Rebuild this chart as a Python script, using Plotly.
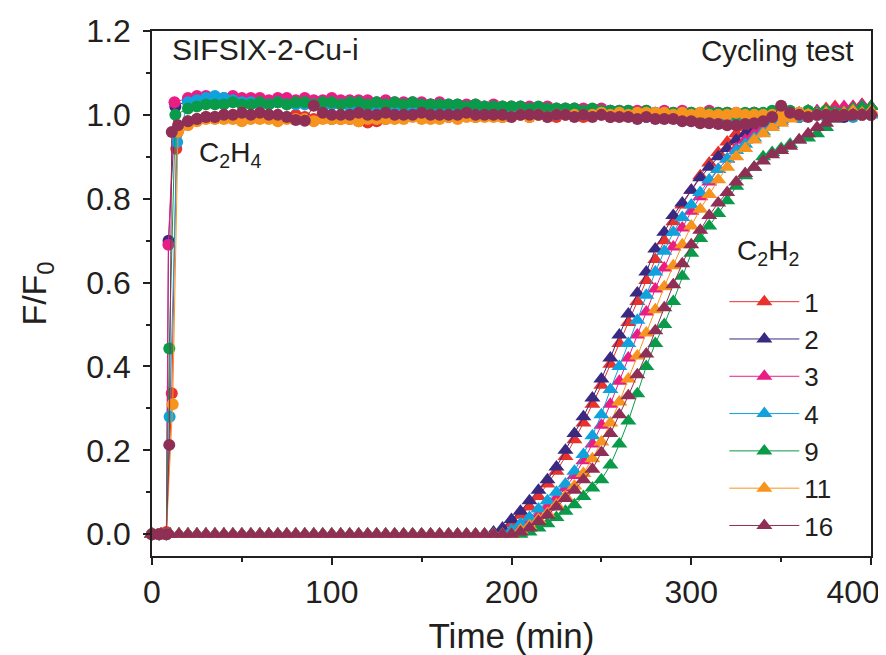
"""C2H4/C2H2 cycling breakthrough curves for SIFSIX-2-Cu-i."""
import plotly.graph_objects as go

CYCLES = ["1", "2", "3", "4", "9", "11", "16"]
COLORS = ["#E8322B", "#3A2980", "#E91E84", "#10A2DD", "#0A9B4A", "#F7941E", "#8F2F56"]

# ---- C2H4 (circles): first points differ per cycle, tail on a shared 5 min grid
C2H4_HEAD_T = [
    [0, 4, 8, 11, 13.5],
    [0, 4, 8, 9.2, 13],
    [0, 4, 8, 9.1, 12.5],
    [0, 4, 8, 9.8, 14],
    [0, 4, 8, 9.6, 13],
    [0, 4, 8, 11.5, 14.5],
    [0, 4, 8, 9.6, 11, 14.5],
]
C2H4_HEAD_F = [
    [0, 0, 0.005, 0.336, 0.919],
    [0, 0, 0, 0.70, 1.02],
    [0, 0, 0, 0.69, 1.03],
    [0, 0, 0, 0.28, 0.935],
    [0, 0, 0, 0.443, 1.0],
    [0, 0, 0, 0.31, 0.96],
    [0, 0, 0, 0.213, 0.959, 0.975],
]
C2H4_TAIL_T = [
    20, 25, 30, 35, 40, 45, 50, 55, 60, 65, 70, 75, 80, 85, 90, 95, 100, 105,
    110, 115, 120, 125, 130, 135, 140, 145, 150, 155, 160, 165, 170, 175, 180, 185, 190, 195,
    200, 205, 210, 215, 220, 225, 230, 235, 240, 245, 250, 255, 260, 265, 270, 275, 280, 285,
    290, 295, 300, 305, 310, 315, 320, 325, 330, 335, 340, 345, 350, 355, 360, 365, 370, 375,
    380, 385, 390, 395, 400, 405,
]
C2H4_TAIL_F = [
    # 1
    [0.985, 0.99, 0.995, 0.995, 1.0, 0.995, 1.0, 0.995, 0.995, 1.0, 0.995, 0.995,
     1.0, 0.995, 0.99, 0.995, 0.99, 0.99, 0.99, 0.985, 0.982, 0.985, 0.99, 0.995,
     0.995, 1.0, 0.995, 1.0, 1.0, 0.995, 1.0, 1.0, 0.995, 1.0, 1.0, 0.995,
     1.0, 1.0, 0.995, 1.0, 1.0, 0.995, 1.0, 1.0, 0.995, 1.0, 1.0, 0.995,
     1.0, 1.0, 0.995, 1.0, 1.0, 1.0, 0.995, 1.0, 1.0, 0.995, 1.0, 1.0,
     0.995, 1.0, 1.0, 1.0, 0.995, 1.0, 1.0, 1.0, 0.995, 1.0, 1.0, 1.0,
     1.0, 1.005, 1.0, 1.0, 1.0, 1.0],
    # 2
    [1.035, 1.04, 1.035, 1.035, 1.035, 1.035, 1.035, 1.03, 1.035, 1.03, 1.03, 1.035,
     1.03, 1.03, 1.03, 1.03, 1.025, 1.03, 1.03, 1.025, 1.03, 1.025, 1.025, 1.025,
     1.025, 1.025, 1.02, 1.025, 1.02, 1.02, 1.02, 1.02, 1.02, 1.015, 1.02, 1.015,
     1.015, 1.015, 1.015, 1.01, 1.015, 1.01, 1.01, 1.01, 1.01, 1.01, 1.005, 1.01,
     1.005, 1.005, 1.005, 1.005, 1.0, 1.005, 1.0, 1.005, 1.0, 1.0, 1.005, 1.0,
     1.0, 1.0, 1.0, 1.005, 1.0, 1.0, 1.0, 1.0, 0.995, 1.0, 1.0, 1.0,
     1.0, 0.995, 1.0, 1.0, 1.0, 1.0],
    # 3
    [1.04, 1.045, 1.045, 1.04, 1.04, 1.045, 1.04, 1.04, 1.04, 1.035, 1.04, 1.04,
     1.035, 1.04, 1.035, 1.035, 1.04, 1.035, 1.035, 1.035, 1.035, 1.03, 1.035, 1.03,
     1.03, 1.03, 1.03, 1.025, 1.03, 1.025, 1.025, 1.025, 1.025, 1.02, 1.025, 1.02,
     1.02, 1.02, 1.02, 1.015, 1.02, 1.015, 1.015, 1.015, 1.015, 1.01, 1.015, 1.01,
     1.01, 1.01, 1.01, 1.01, 1.005, 1.01, 1.005, 1.01, 1.005, 1.005, 1.01, 1.005,
     1.005, 1.005, 1.0, 1.005, 1.0, 1.005, 1.0, 1.005, 1.0, 1.005, 1.0, 1.0,
     1.005, 1.0, 1.005, 1.0, 1.0, 1.0],
    # 4
    [1.03, 1.035, 1.04, 1.045, 1.04, 1.035, 1.03, 1.03, 1.025, 1.025, 1.03, 1.025,
     1.025, 1.025, 1.025, 1.02, 1.025, 1.025, 1.02, 1.025, 1.02, 1.02, 1.02, 1.02,
     1.02, 1.015, 1.02, 1.015, 1.015, 1.02, 1.015, 1.015, 1.015, 1.01, 1.015, 1.01,
     1.01, 1.01, 1.01, 1.005, 1.01, 1.005, 1.005, 1.005, 1.005, 1.0, 1.005, 1.0,
     1.0, 1.0, 1.0, 0.995, 1.0, 1.0, 0.995, 1.0, 0.995, 0.995, 1.0, 0.995,
     0.995, 0.995, 1.0, 0.995, 0.995, 1.0, 0.995, 1.0, 0.995, 1.0, 1.0, 0.995,
     1.0, 1.0, 0.995, 1.0, 1.0, 1.0],
    # 9
    [1.015, 1.02, 1.025, 1.025, 1.025, 1.03, 1.025, 1.025, 1.03, 1.025, 1.03, 1.025,
     1.03, 1.03, 1.025, 1.03, 1.03, 1.025, 1.03, 1.03, 1.025, 1.03, 1.025, 1.03,
     1.025, 1.03, 1.025, 1.025, 1.025, 1.025, 1.025, 1.02, 1.025, 1.02, 1.02, 1.02,
     1.02, 1.02, 1.015, 1.02, 1.015, 1.015, 1.015, 1.015, 1.01, 1.015, 1.01, 1.01,
     1.01, 1.01, 1.005, 1.01, 1.005, 1.005, 1.005, 1.005, 1.005, 1.0, 1.005, 1.005,
     1.005, 1.0, 1.005, 1.005, 1.005, 1.01, 1.005, 1.01, 1.005, 1.01, 1.005, 1.01,
     1.005, 1.005, 1.0, 1.005, 1.0, 1.0],
    # 11
    [0.975, 0.985, 0.99, 0.99, 0.99, 0.99, 0.985, 0.99, 0.99, 0.99, 0.985, 0.99,
     0.99, 0.99, 0.985, 0.99, 0.99, 0.99, 0.99, 0.985, 0.99, 0.99, 0.99, 0.99,
     0.99, 0.995, 0.99, 0.99, 0.99, 0.995, 0.99, 0.995, 0.995, 0.995, 0.995, 0.995,
     0.995, 1.0, 0.995, 1.0, 0.995, 1.0, 1.0, 1.0, 1.0, 1.0, 1.005, 1.0,
     1.005, 1.0, 1.005, 1.005, 1.005, 1.005, 1.0, 1.005, 1.0, 1.005, 1.0, 1.0,
     1.0, 1.005, 1.0, 1.0, 1.0, 1.0, 1.0, 1.0, 1.005, 1.0, 1.0, 1.0,
     1.0, 1.0, 1.0, 1.0, 1.0, 1.0],
    # 16
    [0.985, 0.99, 0.995, 0.995, 1.0, 1.0, 1.005, 1.0, 1.005, 1.0, 1.0, 0.995,
     0.988, 0.986, 1.022, 1.005, 1.0, 1.0, 1.0, 1.005, 1.0, 1.0, 1.005, 1.0,
     1.0, 1.0, 1.005, 1.0, 1.0, 1.0, 1.0, 1.005, 1.0, 1.0, 1.0, 1.0,
     0.995, 1.0, 1.0, 1.0, 0.995, 1.0, 1.0, 0.995, 1.0, 0.995, 1.0, 0.995,
     0.995, 0.995, 0.99, 0.995, 0.99, 0.99, 0.99, 0.985, 0.985, 0.98, 0.98, 0.978,
     0.975, 0.975, 0.978, 0.98, 0.985, 0.995, 1.022, 1.005, 1.0, 0.995, 1.0, 1.0,
     1.0, 1.0, 1.0, 1.0, 1.0, 1.0],
]

# ---- C2H2 (triangles): shared 5 min grid
C2H2_T = [
    0, 5, 10, 15, 20, 25, 30, 35, 40, 45, 50, 55, 60, 65, 70, 75, 80,
    85, 90, 95, 100, 105, 110, 115, 120, 125, 130, 135, 140, 145, 150, 155, 160,
    165, 170, 175, 180, 185, 190, 195, 200, 205, 210, 215, 220, 225, 230, 235, 240,
    245, 250, 255, 260, 265, 270, 275, 280, 285, 290, 295, 300, 305, 310, 315, 320,
    325, 330, 335, 340, 345, 350, 355, 360, 365, 370, 375, 380, 385, 390, 395, 400,
]
C2H2_F = [
    # 1
    [0, 0, 0, 0, 0, 0, 0, 0, 0, 0, 0, 0, 0, 0, 0, 0, 0, 0, 0, 0,
     0, 0, 0, 0, 0, 0, 0, 0, 0, 0, 0, 0, 0, 0, 0, 0, 0, 0, 0,
     0.01, 0.025, 0.045, 0.065, 0.09, 0.12, 0.15, 0.185, 0.225, 0.265, 0.31,
     0.355, 0.405, 0.455, 0.505, 0.555, 0.605, 0.655, 0.7, 0.745, 0.785,
     0.82, 0.855, 0.885, 0.91, 0.935, 0.955, 0.97, 0.98, 0.99, 0.995,
     1.0, 1.0, 1.005, 1.01, 1.01, 1.015, 1.02, 1.015, 1.02, 1.025, 1.02],
    # 2
    [0, 0, 0, 0, 0, 0, 0, 0, 0, 0, 0, 0, 0, 0, 0, 0, 0, 0, 0, 0,
     0, 0, 0, 0, 0, 0, 0, 0, 0, 0, 0, 0, 0, 0, 0, 0, 0, 0,
     0.005, 0.015, 0.035, 0.055, 0.08, 0.105, 0.13, 0.16, 0.2, 0.24, 0.28,
     0.325, 0.37, 0.42, 0.475, 0.525, 0.575, 0.625, 0.68, 0.72, 0.76, 0.79,
     0.82, 0.85, 0.875, 0.9, 0.92, 0.94, 0.955, 0.965, 0.975, 0.98,
     0.99, 0.995, 1.0, 1.0, 1.005, 1.0, 1.005, 1.01, 1.005, 1.01, 1.0],
    # 3
    [0, 0, 0, 0, 0, 0, 0, 0, 0, 0, 0, 0, 0, 0, 0, 0, 0, 0, 0, 0,
     0, 0, 0, 0, 0, 0, 0, 0, 0, 0, 0, 0, 0, 0, 0, 0, 0, 0, 0, 0,
     0.005, 0.015, 0.03, 0.045, 0.065, 0.085, 0.11, 0.14, 0.175, 0.215,
     0.26, 0.31, 0.365, 0.42, 0.475, 0.53, 0.585, 0.635, 0.685, 0.73,
     0.77, 0.805, 0.84, 0.87, 0.895, 0.92, 0.94, 0.955, 0.97, 0.98,
     0.99, 0.995, 1.0, 1.005, 1.01, 1.01, 1.015, 1.02, 1.02, 1.025, 1.02],
    # 4
    [0, 0, 0, 0, 0, 0, 0, 0, 0, 0, 0, 0, 0, 0, 0, 0, 0, 0, 0, 0,
     0, 0, 0, 0, 0, 0, 0, 0, 0, 0, 0, 0, 0, 0, 0, 0, 0, 0, 0, 0,
     0.01, 0.025, 0.04, 0.06, 0.08, 0.1, 0.12, 0.15, 0.19, 0.235,
     0.285, 0.345, 0.4, 0.455, 0.51, 0.57, 0.625, 0.675, 0.72, 0.755,
     0.785, 0.815, 0.845, 0.87, 0.895, 0.915, 0.93, 0.945, 0.96, 0.975,
     0.985, 0.995, 1.0, 1.0, 1.005, 1.0, 1.005, 1.0, 1.005, 1.0, 1.0],
    # 9
    [0, 0, 0, 0, 0, 0, 0, 0, 0, 0, 0, 0, 0, 0, 0, 0, 0, 0, 0, 0,
     0, 0, 0, 0, 0, 0, 0, 0, 0, 0, 0, 0, 0, 0, 0, 0, 0, 0, 0, 0,
     0, 0,
     0.005, 0.015, 0.025, 0.04, 0.055, 0.07, 0.09, 0.11, 0.13, 0.165,
     0.215, 0.27, 0.335, 0.4, 0.455, 0.5, 0.555, 0.615, 0.67, 0.705,
     0.735, 0.765, 0.795, 0.83, 0.855, 0.875, 0.9, 0.91, 0.92, 0.93,
     0.94, 0.945, 0.955, 0.97, 0.99, 1.005, 1.015, 1.02, 1.02],
    # 11
    [0, 0, 0, 0, 0, 0, 0, 0, 0, 0, 0, 0, 0, 0, 0, 0, 0, 0, 0, 0,
     0, 0, 0, 0, 0, 0, 0, 0, 0, 0, 0, 0, 0, 0, 0, 0, 0, 0, 0, 0, 0,
     0.01, 0.02, 0.035, 0.05, 0.07, 0.09, 0.115, 0.145, 0.18, 0.22,
     0.265, 0.315, 0.37, 0.425, 0.48, 0.535, 0.59, 0.64, 0.69, 0.735,
     0.775, 0.81, 0.845, 0.875, 0.9, 0.92, 0.94, 0.955, 0.97, 0.98,
     0.99, 0.995, 1.0, 1.0, 1.005, 1.0, 1.005, 1.01, 1.005, 1.01],
    # 16
    [0, 0, 0, 0, 0, 0, 0, 0, 0, 0, 0, 0, 0, 0, 0, 0, 0, 0, 0, 0,
     0, 0, 0, 0, 0, 0, 0, 0, 0, 0, 0, 0, 0, 0, 0, 0, 0, 0, 0, 0, 0,
     0.005, 0.015, 0.03, 0.045, 0.065, 0.085, 0.105, 0.13, 0.155, 0.195,
     0.24, 0.285, 0.33, 0.38, 0.43, 0.485, 0.54, 0.595, 0.645, 0.69,
     0.725, 0.76, 0.79, 0.815, 0.84, 0.86, 0.875, 0.89, 0.905, 0.915,
     0.925, 0.94, 0.955, 0.97, 0.98, 0.99, 0.995, 1.0, 1.0, 1.005],
]

X_TICKS = [0, 100, 200, 300, 400]
# last label padded with figure spaces so it sits inside the window, as in the original
X_TICK_TEXT = ["0", "100", "200", "300", "400\u2007\u2007"]
Y_TICKS = [0, 0.2, 0.4, 0.6, 0.8, 1.0, 1.2]

FONT = "Liberation Sans, Arial, sans-serif"
INK = "#231F20"

fig = go.Figure()

# each cycle: C2H4 circles, then C2H2 triangles (later cycles drawn on top)
for i, cyc in enumerate(CYCLES):
    fig.add_trace(go.Scatter(
        x=C2H4_HEAD_T[i] + C2H4_TAIL_T,
        y=C2H4_HEAD_F[i] + C2H4_TAIL_F[i],
        mode="lines+markers", name=f"C2H4 {cyc}", showlegend=False,
        line=dict(color=COLORS[i], width=1),
        marker=dict(symbol="circle", size=12, color=COLORS[i], line=dict(width=0)),
        cliponaxis=False,
    ))
    fig.add_trace(go.Scatter(
        x=C2H2_T, y=C2H2_F[i],
        mode="lines+markers", name=cyc, legendgroup=cyc,
        line=dict(color=COLORS[i], width=1),
        marker=dict(symbol="triangle-up", size=14, color=COLORS[i], line=dict(width=0)),
        cliponaxis=False,
    ))

axis_common = dict(
    showline=True, linecolor=INK, linewidth=1.5, mirror=True,
    ticks="outside", ticklen=7, tickwidth=1.5, tickcolor=INK,
    showgrid=False, zeroline=False, automargin=False,
    tickfont=dict(family=FONT, size=32, color=INK),
)

fig.update_xaxes(
    **axis_common, range=[0, 400], tickvals=X_TICKS, ticktext=X_TICK_TEXT,
    ticklabeloverflow="allow",
    minor=dict(dtick=50, ticks="outside", ticklen=4, tickwidth=1.5, tickcolor=INK),
    title=dict(text="Time (min)", font=dict(family=FONT, size=35, color=INK), standoff=22),
)
fig.update_yaxes(
    **axis_common, range=[-0.052, 1.2], tickvals=Y_TICKS,
    tickformat=".1f", ticklabelstandoff=6,
    minor=dict(dtick=0.1, ticks="outside", ticklen=4, tickwidth=1.5, tickcolor=INK),
    title=dict(text="F/F<sub>0</sub>", font=dict(family=FONT, size=34, color=INK), standoff=29),
)

fig.add_annotation(x=0.025, y=0.965, xref="paper", yref="paper", text="SIFSIX-2-Cu-i",
                   showarrow=False, xanchor="left", yanchor="middle",
                   font=dict(family=FONT, size=30, color=INK))
fig.add_annotation(x=0.978, y=0.963, xref="paper", yref="paper", text="Cycling test",
                   showarrow=False, xanchor="right", yanchor="middle",
                   font=dict(family=FONT, size=29.5, color=INK))
fig.add_annotation(x=0.063, y=0.765, xref="paper", yref="paper", text="C<sub>2</sub>H<sub>4</sub>",
                   showarrow=False, xanchor="left", yanchor="middle",
                   font=dict(family=FONT, size=28, color=INK))
fig.add_annotation(x=0.811, y=0.578, xref="paper", yref="paper", text="C<sub>2</sub>H<sub>2</sub>",
                   showarrow=False, xanchor="left", yanchor="middle",
                   font=dict(family=FONT, size=28, color=INK))

# the page body adds an 8 px offset, so the figure is 8 px smaller than the window
fig.update_layout(
    width=878, height=647,
    margin=dict(l=144, r=15, t=23, b=99),
    paper_bgcolor="white", plot_bgcolor="white",
    font=dict(family=FONT, color=INK),
    legend=dict(
        x=0.796, y=0.529, xanchor="left", yanchor="top",
        bgcolor="rgba(0,0,0,0)", borderwidth=0,
        font=dict(family=FONT, size=26, color=INK),
        tracegroupgap=0.5, itemwidth=70,
    ),
)

fig.write_html("out.html")
